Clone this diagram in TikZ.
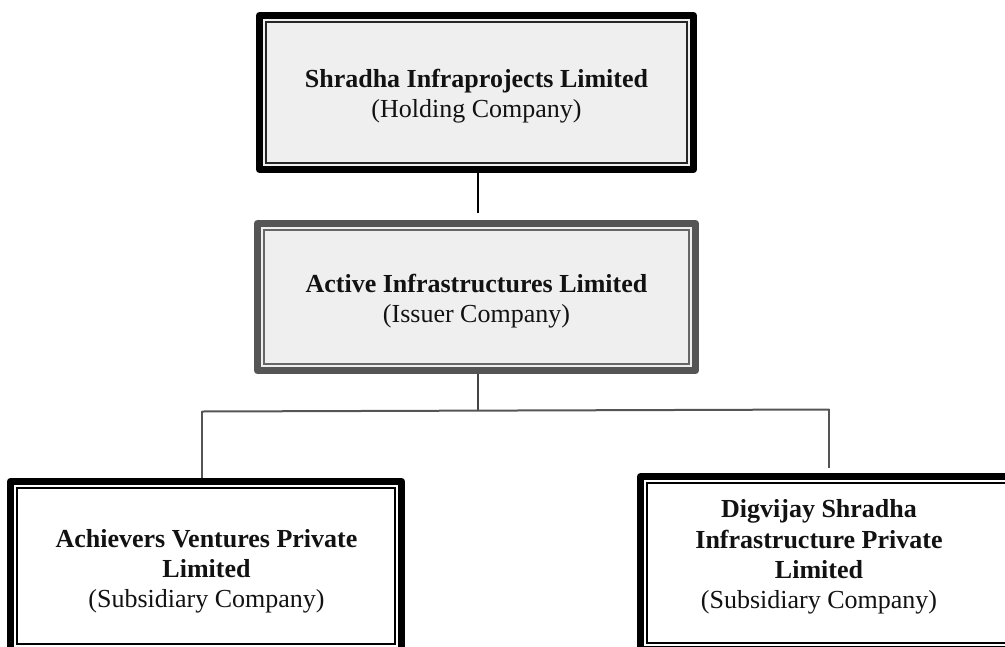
\documentclass[tikz,border=0pt]{standalone}
\usepackage{fontspec}
\setmainfont{Liberation Serif}
\definecolor{boxfill}{HTML}{EFEFEF}
\definecolor{midgray}{HTML}{555555}
\definecolor{innergray}{HTML}{666666}
\definecolor{linegray}{HTML}{444444}
\tikzset{
  orgbox/.style={rectangle, draw=black, line width=7pt, line join=round, inner sep=0pt, outer sep=3.5pt},
  txt/.style={inner sep=0pt, anchor=base, font=\fontsize{26}{30}\selectfont, text=black!93},
  conn/.style={line width=2pt},
  innerline/.style={line width=2pt}
}
\begin{document}
\begin{tikzpicture}[x=1pt,y=-1pt]
\useasboundingbox (0,0) rectangle (1005,646);
\clip (0,0) rectangle (1005,646);
% boxes
\node[orgbox, fill=boxfill, minimum width=434pt, minimum height=154pt] (top) at (476.5,92.5) {};
\draw[innerline, draw=black!85] ([shift={(10,10)}]top.north west) rectangle ([shift={(-10,-10)}]top.south east);
\node[orgbox, draw=midgray, fill=boxfill, minimum width=438pt, minimum height=147pt] (mid) at (476.5,297) {};
\draw[innerline, draw=innergray] ([shift={(10,10)}]mid.north west) rectangle ([shift={(-10,-10)}]mid.south east);
\node[orgbox, fill=white, minimum width=391pt, minimum height=169pt] (left) at (206,566) {};
\draw[innerline] ([shift={(10,10)}]left.north west) rectangle ([shift={(-10,-10)}]left.south east);
\node[orgbox, fill=white, minimum width=391pt, minimum height=173pt] (right) at (836,563) {};
\draw[innerline] ([shift={(10,10)}]right.north west) rectangle ([shift={(-10,-10)}]right.south east);
% connectors
\coordinate (midtop) at (478,213);
\coordinate (barM) at (478,410.5);
\coordinate (barL) at (202,411.5);
\coordinate (barR) at (829,409.5);
\coordinate (rightend) at (829,468);
\draw[conn] (top.south -| midtop) -- (midtop);
\draw[conn, draw=linegray] (mid.south -| barM) -- (barM);
\draw[conn, draw=midgray, line cap=round] (barL) -- (barR);
\draw[conn, draw=midgray] (barL) -- (barL |- left.north);
\draw[conn, draw=midgray] (barR) -- (rightend);
% texts
\node[txt] (t1) at (476.5,87) {\bfseries Shradha Infraprojects Limited};
\node[txt] (t2) at (476.5,117) {(Holding Company)};
\node[txt] (m1) at (476.5,292) {\bfseries Active Infrastructures Limited};
\node[txt] (m2) at (476.5,322) {(Issuer Company)};
\node[txt] (l1) at (206.5,547) {\bfseries Achievers Ventures Private};
\node[txt] (l2) at (206.5,577) {\bfseries Limited};
\node[txt] (l3) at (206.5,607) {(Subsidiary Company)};
\node[txt] (r1) at (819,517) {\bfseries Digvijay Shradha};
\node[txt] (r2) at (819,548) {\bfseries Infrastructure Private};
\node[txt] (r3) at (819,578) {\bfseries Limited};
\node[txt] (r4) at (819,608) {(Subsidiary Company)};
\end{tikzpicture}
\end{document}
